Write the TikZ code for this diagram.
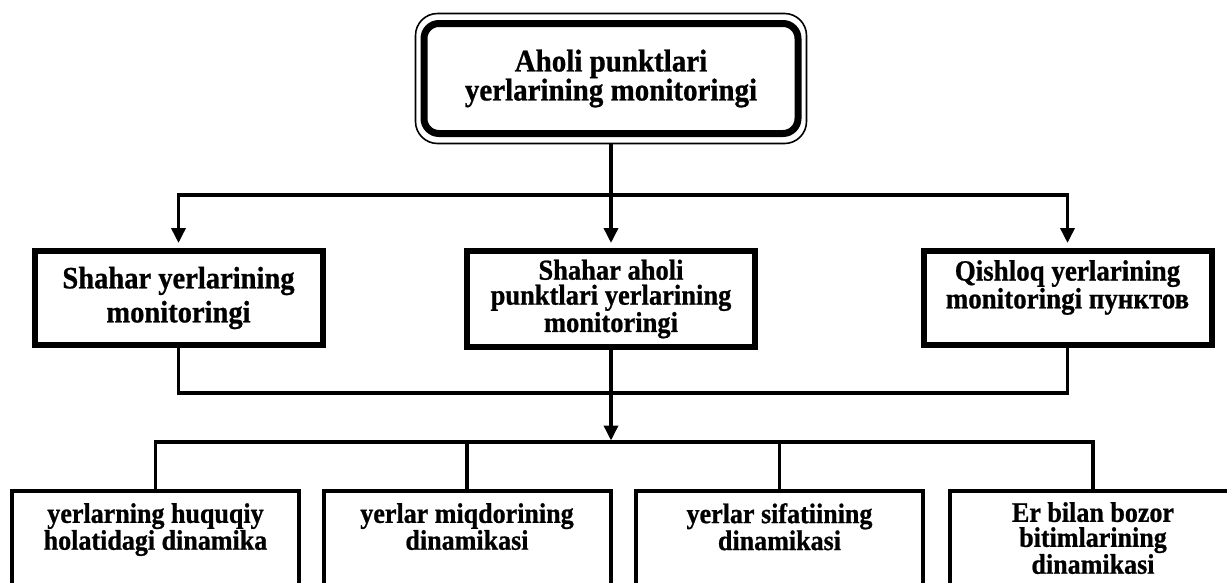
\documentclass[tikz,border=0pt]{standalone}
\usepackage{fontspec}
\setmainfont{Liberation Serif}[FakeStretch=0.92, BoldFeatures={FakeBold=0.8}]
\usetikzlibrary{arrows.meta,positioning,calc,fit}
\tikzset{
  topbox/.style={draw, line width=7pt, rounded corners=15pt, minimum width=374pt, minimum height=110pt,
    align=center, inner sep=0pt, font=\fontsize{31.5}{29}\selectfont\bfseries},
  topframe/.style={draw, line width=1.6pt, rounded corners=22pt, inner xsep=5pt, inner ysep=6.5pt},
  midbox/.style={draw, line width=6pt, minimum width=288pt, minimum height=95pt, align=center, inner sep=0pt},
  lowbox/.style={draw, line width=4pt, minimum width=287pt, minimum height=140pt, inner sep=0pt},
  lowtext/.style={align=center, inner sep=0pt, font=\fontsize{28.3}{25}\selectfont\bfseries},
  conn/.style={line width=3.5pt},
  arrowdown/.style={-{Triangle[length=15pt,width=14pt]}},
}

\begin{document}
\begin{tikzpicture}[x=1pt,y=-1pt]
    \useasboundingbox (0,0) rectangle (1227,582);
    \clip (0,0) rectangle (1227,582);

    % bosh blok
    \node[topbox] (top) at (611,78.5) {Aholi punktlari\\yerlarining monitoringi};
    \node[topframe, fit=(top)] (topfr) {};

    % ikkinchi qator
    \node[midbox, minimum height=94pt, font=\fontsize{31}{34}\selectfont\bfseries] (m1) at (178.5,298)
        {Shahar yerlarining\\monitoringi};
    \node[midbox, minimum height=96pt, font=\fontsize{28.8}{25}\selectfont\bfseries] (m2) at (611,299)
        {Shahar aholi\\punktlari yerlarining\\monitoringi};
    \node[midbox, minimum height=94pt] (m3) at (1067.5,298) {};
    \node[lowtext, font=\fontsize{29.3}{25.5}\selectfont\bfseries, below=12pt of m3.north] (m3t)
        {Qishloq yerlarining\\monitoringi пунктов};

    % uchinchi qator
    \node[lowbox] (b1) at (155.5,561) {};
    \node[lowbox] (b2) at (467,561) {};
    \node[lowbox] (b3) at (779.5,561) {};
    \node[lowbox] (b4) at (1093,561) {};
    \node[lowtext, below=14pt of b1.north] (b1t) {yerlarning huquqiy\\holatidagi dinamika};
    \node[lowtext, below=14pt of b2.north] (b2t) {yerlar miqdorining\\dinamikasi};
    \node[lowtext, below=14pt of b3.north] (b3t) {yerlar sifatiining\\dinamikasi};
    \node[lowtext, below=13pt of b4.north] (b4t) {Er bilan bozor\\bitimlarining\\dinamikasi};

    % ulanishlar
    \coordinate (busA) at (611,195);
    \coordinate (busB) at (611,393);
    \coordinate (busC) at (611,442);
    \draw[conn, arrowdown, shorten >=5pt] (topfr.south) -- (m2.north);
    \draw[conn, {Triangle[length=15pt,width=14pt]}-{Triangle[length=15pt,width=14pt]}, shorten <=5pt, shorten >=5pt]
        (m1.north) |- (busA) -| (m3.north);
    \draw[conn] (m1.south) |- (busB) -| (m3.south);
    \draw[conn, arrowdown, shorten >=1.5pt] (m2.south) -- (busC);
    \draw[conn] (b1.north) |- (busC) -| (b4.north);
    \draw[conn] (b2.north) -- (b2.north |- busC);
    \draw[conn] (b3.north) -- (b3.north |- busC);
\end{tikzpicture}
\end{document}
